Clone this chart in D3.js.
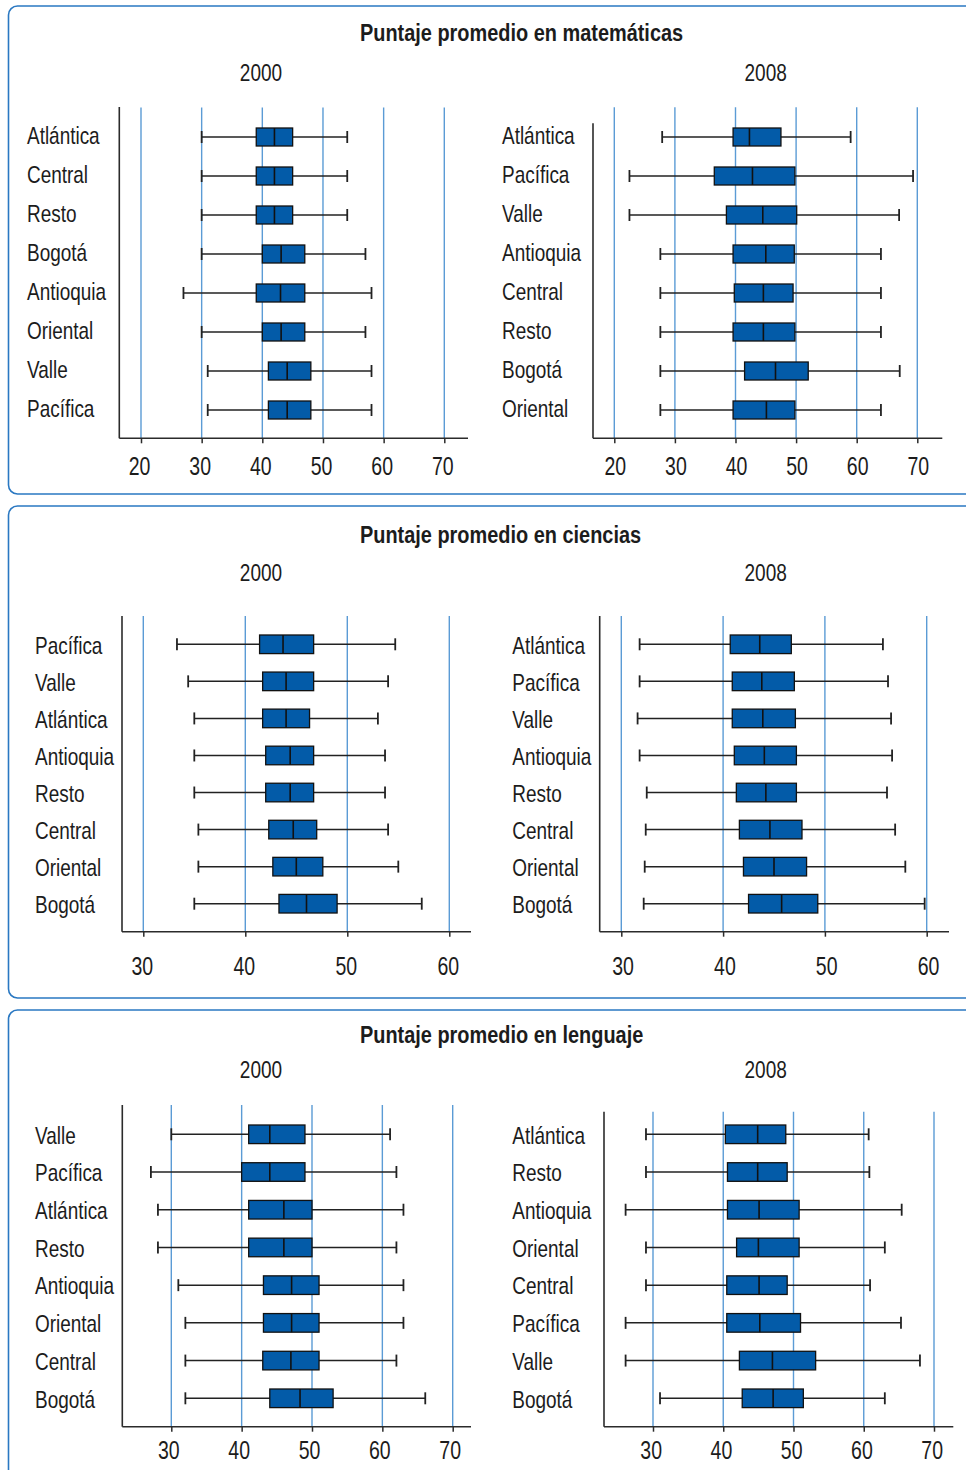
<!DOCTYPE html>
<html lang="es">
<head>
<meta charset="utf-8">
<script src="https://cdn.jsdelivr.net/npm/d3@7"></script>
<style>
  html, body { margin: 0; padding: 0; background: #fff; }
  svg { display: block; }
  text { font-family: "Liberation Sans", Arial, sans-serif; fill: #1c1c1c; }
</style>
</head>
<body>
<svg id="chart" width="966" height="1470"></svg>
<script>
// Summary statistics per region: [min, Q1, median, Q3, max]

// Matemáticas 2000
const mat2000Regions = ["Atlántica", "Central", "Resto", "Bogotá", "Antioquia", "Oriental", "Valle", "Pacífica"];
const mat2000Stats = [
  [30, 39, 42, 45, 54],
  [30, 39, 42, 45, 54],
  [30, 39, 42, 45, 54],
  [30, 40, 43.1, 47, 57],
  [27, 39, 43, 47, 58],
  [30, 40, 43.1, 47, 57],
  [31, 41, 44.1, 48, 58],
  [31, 41, 44.1, 48, 58]
];

// Matemáticas 2008
const mat2008Regions = ["Atlántica", "Pacífica", "Valle", "Antioquia", "Central", "Resto", "Bogotá", "Oriental"];
const mat2008Stats = [
  [27.9, 39.6, 42.3, 47.5, 59],
  [22.5, 36.5, 42.8, 49.8, 69.3],
  [22.5, 38.5, 44.5, 50.1, 67],
  [27.6, 39.6, 45, 49.7, 64],
  [27.6, 39.8, 44.6, 49.5, 64],
  [27.6, 39.6, 44.6, 49.8, 64],
  [27.6, 41.5, 46.6, 52, 67.1],
  [27.6, 39.6, 45.1, 49.8, 64]
];

// Ciencias 2000
const cie2000Regions = ["Pacífica", "Valle", "Atlántica", "Antioquia", "Resto", "Central", "Oriental", "Bogotá"];
const cie2000Stats = [
  [33.3, 41.4, 43.7, 46.7, 54.7],
  [34.4, 41.7, 44, 46.7, 54],
  [35, 41.7, 44, 46.3, 53],
  [35, 42, 44.4, 46.7, 53.7],
  [35, 42, 44.4, 46.7, 53.7],
  [35.4, 42.3, 44.7, 47, 54],
  [35.4, 42.7, 45, 47.6, 55],
  [35, 43.3, 46, 49, 57.3]
];

// Ciencias 2008
const cie2008Regions = ["Atlántica", "Pacífica", "Valle", "Antioquia", "Resto", "Central", "Oriental", "Bogotá"];
const cie2008Stats = [
  [31.8, 40.7, 43.6, 46.7, 55.7],
  [31.8, 40.9, 43.8, 47, 56.2],
  [31.6, 40.9, 43.9, 47.1, 56.5],
  [31.8, 41.1, 44.05, 47.2, 56.6],
  [32.5, 41.3, 44.2, 47.2, 56.1],
  [32.4, 41.6, 44.6, 47.75, 56.9],
  [32.3, 42, 45, 48.2, 57.9],
  [32.2, 42.5, 45.75, 49.3, 59.8]
];

// Lenguaje 2000
const len2000Regions = ["Valle", "Pacífica", "Atlántica", "Resto", "Antioquia", "Oriental", "Central", "Bogotá"];
const len2000Stats = [
  [30, 41, 44, 49, 61.1],
  [27.1, 40, 44, 49, 62],
  [28.1, 41, 46, 50, 63],
  [28.1, 41, 46, 50, 62],
  [31, 43.1, 47.1, 51, 63],
  [32, 43.1, 47.1, 51, 63],
  [32, 43, 47, 51, 62],
  [32, 44, 48.3, 53, 66.1]
];

// Lenguaje 2008
const len2008Regions = ["Atlántica", "Resto", "Antioquia", "Oriental", "Central", "Pacífica", "Valle", "Bogotá"];
const len2008Stats = [
  [29, 40.3, 44.9, 48.9, 60.7],
  [29, 40.6, 44.9, 49.1, 60.8],
  [26.1, 40.6, 45.1, 50.8, 65.4],
  [29, 41.9, 45, 50.8, 63],
  [29, 40.5, 45.1, 49.1, 60.9],
  [26.1, 40.5, 45.2, 51, 65.3],
  [26.1, 42.3, 47, 53.15, 68],
  [31, 42.7, 47.1, 51.4, 63]
];

// Axis tick values
const ticksMat = [20, 30, 40, 50, 60, 70];
const ticksCie = [30, 40, 50, 60];
const ticksLen = [30, 40, 50, 60, 70];

// Section titles and year labels
const sectionTitles = ["Puntaje promedio en matemáticas", "Puntaje promedio en ciencias", "Puntaje promedio en lenguaje"];
const yearLabels = ["2000", "2008"];

// ---------- drawing ----------
const svg = d3.select("#chart");

const C = {
  frame: "#2a78c2",
  grid: "#5b9bd5",
  axis: "#2b2b2b",
  boxFill: "#035ba8",
  boxStroke: "#111",
  whisker: "#222"
};

// Horizontal squeeze that gives a condensed face
const NARROW = 0.79;
const placeText = (sel, x, y, sx) =>
  sel.attr("transform", `translate(${x},${y}) scale(${sx},1)`);

// Section frames (rounded, open to the right edge)
const frames = [
  { y0: 6, y1: 494 },
  { y0: 506, y1: 998 },
  { y0: 1010, y1: 1500 }
];
frames.forEach(f => {
  svg.append("rect")
    .attr("x", 8.5).attr("y", f.y0)
    .attr("width", 1000).attr("height", f.y1 - f.y0)
    .attr("rx", 9).attr("ry", 9)
    .attr("fill", "none")
    .attr("stroke", C.frame)
    .attr("stroke-width", 1.6);
});

// Section titles
const titleY = [32.5, 534.5, 1034.5];
sectionTitles.forEach((t, i) => {
  svg.append("text")
    .call(placeText, 360, titleY[i], 0.83)
    .attr("dy", "0.36em")
    .attr("font-size", 24)
    .attr("font-weight", "bold")
    .attr("fill", "#111")
    .text(t);
});

// Panel layout
const panels = [
  { regions: mat2000Regions, stats: mat2000Stats, ticks: ticksMat, year: yearLabels[0],
    dom: [20, 70], xr: [141, 444.3], axisX: 119.3, axisTop: 107, gridTop: 107.5, axisY: 438.3, axisRight: 468,
    rows: [137, 410], boxH: 18, yearX: 261, yearY: 73, labelX: 27, labelDy: 0, tickPad: 13.5, tickDx: -2 },
  { regions: mat2008Regions, stats: mat2008Stats, ticks: ticksMat, year: yearLabels[1],
    dom: [20, 70], xr: [614.3, 917.3], axisX: 593, axisTop: 123.3, gridTop: 107.3, axisY: 438.3, axisRight: 942.3,
    rows: [137, 410], boxH: 18, yearX: 765.7, yearY: 73, labelX: 502, labelDy: 0, tickPad: 13.5, tickDx: 0.5 },
  { regions: cie2000Regions, stats: cie2000Stats, ticks: ticksCie, year: yearLabels[0],
    dom: [30, 60], xr: [143.3, 449.3], axisX: 122, axisTop: 616, gridTop: 616, axisY: 931.7, axisRight: 471,
    rows: [644.3, 903.7], boxH: 18.6, yearX: 261, yearY: 573, labelX: 35, labelDy: 2, tickPad: 21, tickDx: -1.5 },
  { regions: cie2008Regions, stats: cie2008Stats, ticks: ticksCie, year: yearLabels[1],
    dom: [30, 60], xr: [621.3, 926.7], axisX: 599.7, axisTop: 616, gridTop: 616, axisY: 931.7, axisRight: 949,
    rows: [644.3, 903.7], boxH: 18.6, yearX: 765.7, yearY: 573, labelX: 512.3, labelDy: 2, tickPad: 21, tickDx: 1.3 },
  { regions: len2000Regions, stats: len2000Stats, ticks: ticksLen, year: yearLabels[0],
    dom: [30, 70], xr: [171.3, 452.7], axisX: 122.3, axisTop: 1105, gridTop: 1105, axisY: 1426.7, axisRight: 471,
    rows: [1134.3, 1398.3], boxH: 18.6, yearX: 261, yearY: 1070, labelX: 35, labelDy: 2, tickPad: 10, tickDx: -3 },
  { regions: len2008Regions, stats: len2008Stats, ticks: ticksLen, year: yearLabels[1],
    dom: [30, 70], xr: [653, 934], axisX: 604, axisTop: 1111.7, gridTop: 1111.7, axisY: 1426.7, axisRight: 953.3,
    rows: [1134.3, 1398.3], boxH: 18.6, yearX: 765.7, yearY: 1070, labelX: 512.3, labelDy: 2, tickPad: 10, tickDx: -2.3 }
];

panels.forEach(p => {
  const g = svg.append("g");
  const x = d3.scaleLinear().domain(p.dom).range(p.xr);
  const y = d3.scalePoint().domain(p.regions).range(p.rows).padding(0);

  // year label
  g.append("text")
    .call(placeText, p.yearX, p.yearY, 0.81)
    .attr("dy", "0.36em")
    .attr("text-anchor", "middle")
    .attr("font-size", 23.5)
    .text(p.year);

  // vertical gridlines
  g.append("g").selectAll("line")
    .data(p.ticks)
    .join("line")
    .attr("x1", d => x(d)).attr("x2", d => x(d))
    .attr("y1", p.gridTop).attr("y2", p.axisY)
    .attr("stroke", C.grid)
    .attr("stroke-width", 1.4);

  // bottom axis: ticks and labels from the scale
  const ax = g.append("g")
    .attr("transform", `translate(0,${p.axisY})`)
    .call(d3.axisBottom(x).tickValues(p.ticks).tickSize(5).tickPadding(p.tickPad).tickFormat(d3.format("d")));
  ax.attr("font-family", null).attr("font-size", null);
  ax.select(".domain").remove();
  ax.selectAll(".tick line").attr("stroke", C.axis).attr("stroke-width", 1.5);
  ax.selectAll(".tick text")
    .attr("font-size", 25)
    .attr("fill", "#1c1c1c")
    .attr("transform", `translate(${p.tickDx},0) scale(0.78,1)`);

  // axis lines
  g.append("line")
    .attr("x1", p.axisX).attr("x2", p.axisRight)
    .attr("y1", p.axisY).attr("y2", p.axisY)
    .attr("stroke", C.axis).attr("stroke-width", 1.6);
  g.append("line")
    .attr("x1", p.axisX).attr("x2", p.axisX)
    .attr("y1", p.axisTop).attr("y2", p.axisY)
    .attr("stroke", C.axis).attr("stroke-width", 1.6);

  // region labels
  g.append("g").selectAll("text")
    .data(p.regions)
    .join("text")
    .attr("transform", d => `translate(${p.labelX},${y(d) + p.labelDy}) scale(${NARROW},1)`)
    .attr("dy", "0.3em")
    .attr("font-size", 24)
    .text(d => d);

  // box plots
  const rows = p.regions.map((r, i) => ({ region: r, s: p.stats[i] }));
  const bx = g.append("g").selectAll("g")
    .data(rows)
    .join("g")
    .attr("transform", d => `translate(0,${y(d.region)})`);

  const h = p.boxH, cap = 12;
  // whisker line
  bx.append("line")
    .attr("x1", d => x(d.s[0])).attr("x2", d => x(d.s[4]))
    .attr("y1", 0).attr("y2", 0)
    .attr("stroke", C.whisker).attr("stroke-width", 1.5);
  // whisker caps
  bx.append("line")
    .attr("x1", d => x(d.s[0])).attr("x2", d => x(d.s[0]))
    .attr("y1", -cap / 2).attr("y2", cap / 2)
    .attr("stroke", C.whisker).attr("stroke-width", 1.8);
  bx.append("line")
    .attr("x1", d => x(d.s[4])).attr("x2", d => x(d.s[4]))
    .attr("y1", -cap / 2).attr("y2", cap / 2)
    .attr("stroke", C.whisker).attr("stroke-width", 1.8);
  // box
  bx.append("rect")
    .attr("x", d => x(d.s[1]))
    .attr("width", d => x(d.s[3]) - x(d.s[1]))
    .attr("y", -h / 2).attr("height", h)
    .attr("fill", C.boxFill)
    .attr("stroke", C.boxStroke).attr("stroke-width", 1.3);
  // median
  bx.append("line")
    .attr("x1", d => x(d.s[2])).attr("x2", d => x(d.s[2]))
    .attr("y1", -h / 2).attr("y2", h / 2)
    .attr("stroke", C.boxStroke).attr("stroke-width", 1.6);
});
</script>
</body>
</html>
